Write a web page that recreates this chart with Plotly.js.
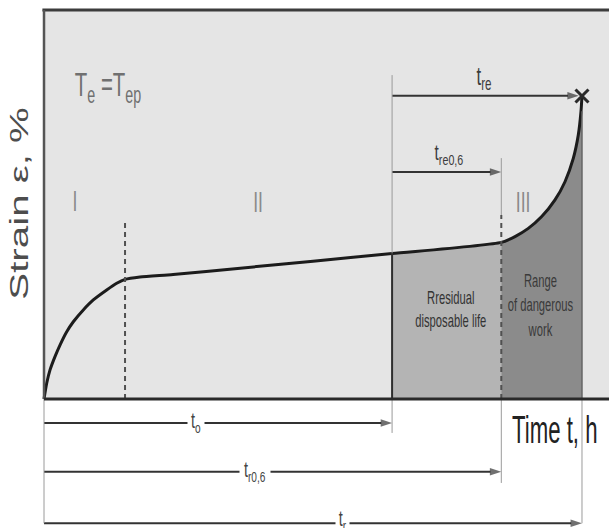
<!DOCTYPE html>
<html>
<head>
<meta charset="utf-8">
<script src="https://cdn.plot.ly/plotly-3.0.1.min.js"></script>
<style>
  html, body { margin: 0; padding: 0; background: #ffffff; }
  #chart { width: 609px; height: 528px; }
</style>
</head>
<body>
<div id="chart"></div>
<script>
// Creep curve: strain vs. time, primary (I), secondary (II) and tertiary (III) stages
const curveTime   = [0, 0.50, 1.12, 2.04, 2.97, 4.22, 5.45, 7.30, 9.16, 11.65, 13.51, 15.06, 17.84, 24.0, 36.0, 50.0, 64.7, 85.0, 87.55, 90.02, 92.51, 94.98, 96.84, 98.38, 99.31, 99.81, 100];
const curveStrain = [0, 0.52, 0.96, 1.40, 1.78, 2.22, 2.55, 2.94, 3.27, 3.60, 3.82, 3.95, 4.03, 4.11, 4.31, 4.55, 4.80, 5.17, 5.36, 5.63, 6.02, 6.57, 7.17, 7.94, 8.71, 9.48, 10.0];

// characteristic times (same units as curveTime)
const markNames = ['t1', 'to', 'tr06', 'tr'];
const markTimes = [15.06, 64.7, 85.0, 100];
const T = Object.fromEntries(markNames.map((n, i) => [n, markTimes[i]]));
const fractureStrain = curveStrain[curveStrain.length - 1];

const stageLabels = ['I', 'II', 'III'];

// axis extent in data units
const xMin = -8.18, xMax = 105.02;
const yMin = -4.257, yMax = 13.168;
const frameTop = 12.84;

function strainAt(t) {
  for (let i = 1; i < curveTime.length; i++) {
    if (t <= curveTime[i]) {
      const f = (t - curveTime[i - 1]) / (curveTime[i] - curveTime[i - 1]);
      return curveStrain[i - 1] + f * (curveStrain[i] - curveStrain[i - 1]);
    }
  }
  return fractureStrain;
}
function segment(t0, t1) {
  const xs = [], ys = [];
  curveTime.forEach((t, i) => { if (t >= t0 - 1e-9 && t <= t1 + 1e-9) { xs.push(t); ys.push(curveStrain[i]); } });
  return { x: xs, y: ys };
}

const residual = segment(T.to, T.tr06);
const dangerous = segment(T.tr06, T.tr);

// horizontal time spans with arrowheads
function span(t0, t1, y) {
  return { x: [t0, t1], y: [y, y], type: 'scatter', mode: 'lines+markers', hoverinfo: 'skip',
           line: { color: '#333333', width: 2 },
           marker: { symbol: 'arrow', angleref: 'previous', size: [0, 12], color: '#333333', line: { width: 0 } } };
}

const traces = [
  { x: residual.x, y: residual.y, type: 'scatter', mode: 'lines', fill: 'tozeroy',
    fillcolor: '#b4b4b4', line: { width: 0, shape: 'spline', smoothing: 0.6 }, hoverinfo: 'skip' },
  { x: dangerous.x, y: dangerous.y, type: 'scatter', mode: 'lines', fill: 'tozeroy',
    fillcolor: '#8b8b8b', line: { width: 0, shape: 'spline', smoothing: 0.6 }, hoverinfo: 'skip' },
  { x: curveTime, y: curveStrain, type: 'scatter', mode: 'lines',
    line: { color: '#1c1c1c', width: 3, shape: 'spline', smoothing: 0.6 }, hoverinfo: 'skip' },
  span(T.to, T.tr - 0.6, 10.01),
  span(T.to, T.tr06, 7.49),
  span(0, T.to, -0.79),
  span(0, T.tr06, -2.40),
  span(0, T.tr, -4.10),
  { x: [T.tr], y: [fractureStrain], type: 'scatter', mode: 'markers',
    marker: { symbol: 'x-thin', size: 13, line: { color: '#2a2a2a', width: 3 } }, hoverinfo: 'skip' }
];

const thin = { color: '#9a9a9a', width: 1 };
const shapes = [
  // grey field of the diagram
  { type: 'rect', layer: 'below', x0: 0, x1: xMax, y0: 0, y1: frameTop, fillcolor: '#e5e5e5', line: { width: 0 } },
  // thin guide lines
  { type: 'line', x0: T.to, x1: T.to, y0: 10.69, y1: strainAt(T.to), line: thin },
  { type: 'line', x0: T.to, x1: T.to, y0: 0, y1: -1.12, line: thin },
  { type: 'line', x0: T.tr06, x1: T.tr06, y0: 7.95, y1: 6.07, line: thin },
  { type: 'line', x0: T.tr06, x1: T.tr06, y0: 0, y1: -2.77, line: thin },
  { type: 'line', x0: T.tr, x1: T.tr, y0: 0, y1: -4.1, line: thin },
  { type: 'line', x0: 0, x1: 0, y0: 0, y1: -4.1, line: thin },
  // stage boundaries
  { type: 'line', x0: T.t1, x1: T.t1, y0: 0, y1: 5.91, line: { color: '#505050', width: 2, dash: '5px,4px' } },
  { type: 'line', x0: T.tr06, x1: T.tr06, y0: 0, y1: 6.07, line: { color: '#505050', width: 2, dash: '5px,4px' } },
  // edges of shaded zones
  { type: 'line', x0: T.to, x1: T.to, y0: 0, y1: strainAt(T.to), line: { color: '#2e2e2e', width: 2 } },
  { type: 'line', x0: T.tr, x1: T.tr, y0: 0, y1: fractureStrain - 0.5, line: { color: '#666666', width: 1.5 } },
  // frame and axes
  { type: 'line', x0: -0.3, x1: xMax, y0: frameTop, y1: frameTop, line: { color: '#3c3c3c', width: 3 } },
  { type: 'line', x0: 0, x1: 0, y0: 0, y1: frameTop, line: { color: '#555555', width: 2.5 } },
  { type: 'line', x0: 0, x1: xMax, y0: 0, y1: 0, line: { color: '#2a2a2a', width: 3 } }
];

const sans = 'Liberation Sans, Arial, sans-serif';

function label(text, x, y, size, color, extra) {
  return Object.assign({ x: x, y: y, xref: 'x', yref: 'y', text: text, showarrow: false,
    xanchor: 'center', yanchor: 'middle', font: { family: sans, size: size, color: color } }, extra || {});
}

// [annotation, [horizontal, vertical] scale of its glyphs] - the lettering is tall and condensed
const notes = [
  [label('Strain ε, %', -4.65, 6.45, 26, '#4d4d4d', { textangle: -90 }), [1.55, 1]],
  [label('T<sub>e</sub> =T<sub>ep</sub>', 11.87, 10.3, 24, '#707070'), [0.85, 1.4]],
  [label(stageLabels[0], 5.76, 6.53, 22, '#8a8a8a'), [0.8, 1.3]],
  [label(stageLabels[1], 39.8, 6.5, 22, '#8a8a8a'), [0.8, 1.3]],
  [label(stageLabels[2], 89.0, 6.47, 22, '#8a8a8a'), [0.8, 1.3]],
  [label('t<sub>re</sub>', 81.8, 10.6, 20, '#3c3c3c'), [0.83, 1.3]],
  [label('t<sub>re0,6</sub>', 75.3, 8.05, 17, '#3c3c3c'), [0.9, 1.3]],
  [label('Rresidual<br>disposable life', 75.6, 2.97, 13.5, '#333333'), [0.83, 1.33]],
  [label('Range<br>of dangerous<br>work', 92.2, 3.1, 13.5, '#3a3a3a'), [0.83, 1.42]],
  [label('Time t, h', 94.96, -1.02, 30, '#222222'), [0.74, 1.3]],
  [label('t<sub>o</sub>', 28.3, -0.79, 17, '#444444', { bgcolor: '#ffffff', borderpad: 2 }), [0.85, 1.3]],
  [label('t<sub>r0,6</sub>', 39.2, -2.40, 17, '#444444', { bgcolor: '#ffffff', borderpad: 2 }), [0.85, 1.3]],
  [label('t<sub>r</sub>', 55.4, -4.02, 17, '#444444', { bgcolor: '#ffffff', borderpad: 2 }), [0.85, 1.3]]
];

const layout = {
  width: 609, height: 528,
  margin: { l: 0, r: 0, t: 0, b: 0, pad: 0 },
  paper_bgcolor: '#ffffff', plot_bgcolor: '#ffffff',
  showlegend: false,
  font: { family: sans },
  xaxis: { range: [xMin, xMax], visible: false, showgrid: false, zeroline: false, fixedrange: true },
  yaxis: { range: [yMin, yMax], visible: false, showgrid: false, zeroline: false, fixedrange: true },
  shapes: shapes,
  annotations: notes.map(n => n[0])
};

Plotly.newPlot('chart', traces, layout, { displayModeBar: false, staticPlot: true }).then(gd => {
  gd.querySelectorAll('g.annotation').forEach(g => {
    const s = notes[+g.getAttribute('data-index')];
    if (!s || !s[1]) return;
    const t = g.querySelector('text.annotation-text');
    if (!t) return;
    const b = t.getBBox();
    const cx = b.x + b.width / 2, cy = b.y + b.height / 2;
    const prev = t.getAttribute('transform') || '';
    t.setAttribute('transform', prev + ' translate(' + cx + ',' + cy + ') scale(' + s[1][0] + ',' + s[1][1] + ') translate(' + (-cx) + ',' + (-cy) + ')');
  });
});
</script>
</body>
</html>
